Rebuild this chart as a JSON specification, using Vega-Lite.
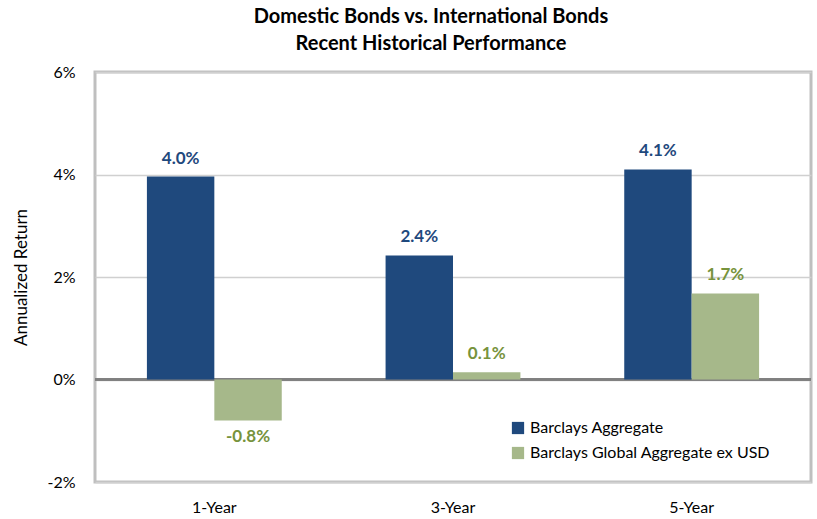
{
  "$schema": "https://vega.github.io/schema/vega-lite/v6.json",
  "width": 716,
  "height": 410,
  "autosize": {"type": "none"},
  "padding": {"left": 95, "top": 72, "right": 6, "bottom": 37},
  "background": "white",
  "title": {
    "text": ["Domestic Bonds vs. International Bonds", "Recent Historical Performance"],
    "font": "Lato",
    "fontSize": 20,
    "fontWeight": "bold",
    "color": "#000000",
    "anchor": "middle",
    "dx": -22,
    "offset": 10,
    "lineHeight": 27
  },
  "config": {
    "font": "Lato",
    "view": {"stroke": "#BFBFBF", "strokeWidth": 3}
  },
  "data": {
    "values": [
      {"period": "1-Year", "series": "Barclays Aggregate", "value": 3.96},
      {"period": "1-Year", "series": "Barclays Global Aggregate ex USD", "value": -0.8},
      {"period": "3-Year", "series": "Barclays Aggregate", "value": 2.42},
      {"period": "3-Year", "series": "Barclays Global Aggregate ex USD", "value": 0.14},
      {"period": "5-Year", "series": "Barclays Aggregate", "value": 4.1},
      {"period": "5-Year", "series": "Barclays Global Aggregate ex USD", "value": 1.68}
    ]
  },
  "encoding": {
    "x": {
      "field": "period",
      "type": "nominal",
      "scale": {"paddingInner": 0.435, "paddingOuter": 0.2175},
      "axis": {
        "title": null,
        "labelAngle": 0,
        "labelFontSize": 16,
        "labelColor": "#000000",
        "labelPadding": 17,
        "domain": false,
        "ticks": false,
        "grid": false
      }
    },
    "xOffset": {"field": "series", "type": "nominal", "sort": ["Barclays Aggregate", "Barclays Global Aggregate ex USD"]},
    "y": {
      "field": "value",
      "type": "quantitative",
      "scale": {"domain": [-2, 6], "nice": false},
      "axis": {
        "title": "Annualized Return",
        "titleFontSize": 17,
        "titleFontWeight": "normal",
        "titleColor": "#000000",
        "titlePadding": 16,
        "values": [-2, 0, 2, 4, 6],
        "labelExpr": "datum.value + '%'",
        "labelFontSize": 16,
        "labelColor": "#000000",
        "labelPadding": 20,
        "domain": false,
        "ticks": false,
        "gridColor": "#D0D0D0",
        "gridWidth": 1.5
      }
    }
  },
  "layer": [
    {
      "mark": {"type": "rule", "color": "#808080", "strokeWidth": 2},
      "encoding": {"y": {"datum": 0}, "x": null, "xOffset": null}
    },
    {
      "mark": {"type": "bar"},
      "encoding": {
        "color": {
          "field": "series",
          "type": "nominal",
          "scale": {"domain": ["Barclays Aggregate", "Barclays Global Aggregate ex USD"], "range": ["#1F497D", "#A6B88A"]},
          "legend": {
            "title": null,
            "orient": "none",
            "legendX": 415,
            "legendY": 348,
            "symbolType": "square",
            "symbolSize": 150,
            "symbolStrokeWidth": 0,
            "labelFontSize": 16,
            "labelColor": "#000000",
            "labelLimit": 400,
            "rowPadding": 9,
            "symbolOffset": 0
          }
        }
      }
    },
    {
      "transform": [
        {"calculate": "(datum.value < 0 ? '-' : '') + format(abs(datum.value), '.1f') + '%'", "as": "label"}
      ],
      "mark": {
        "type": "text",
        "fontSize": 17,
        "fontWeight": "bold",
        "baseline": {"expr": "datum.value < 0 ? 'top' : 'bottom'"},
        "dy": {"expr": "datum.value < 0 ? 8 : -9"}
      },
      "encoding": {
        "text": {"field": "label", "type": "nominal"},
        "color": {
          "field": "series",
          "type": "nominal",
          "scale": {"domain": ["Barclays Aggregate", "Barclays Global Aggregate ex USD"], "range": ["#1F497D", "#77933C"]},
          "legend": null
        }
      }
    }
  ],
  "resolve": {"scale": {"color": "independent"}}
}
